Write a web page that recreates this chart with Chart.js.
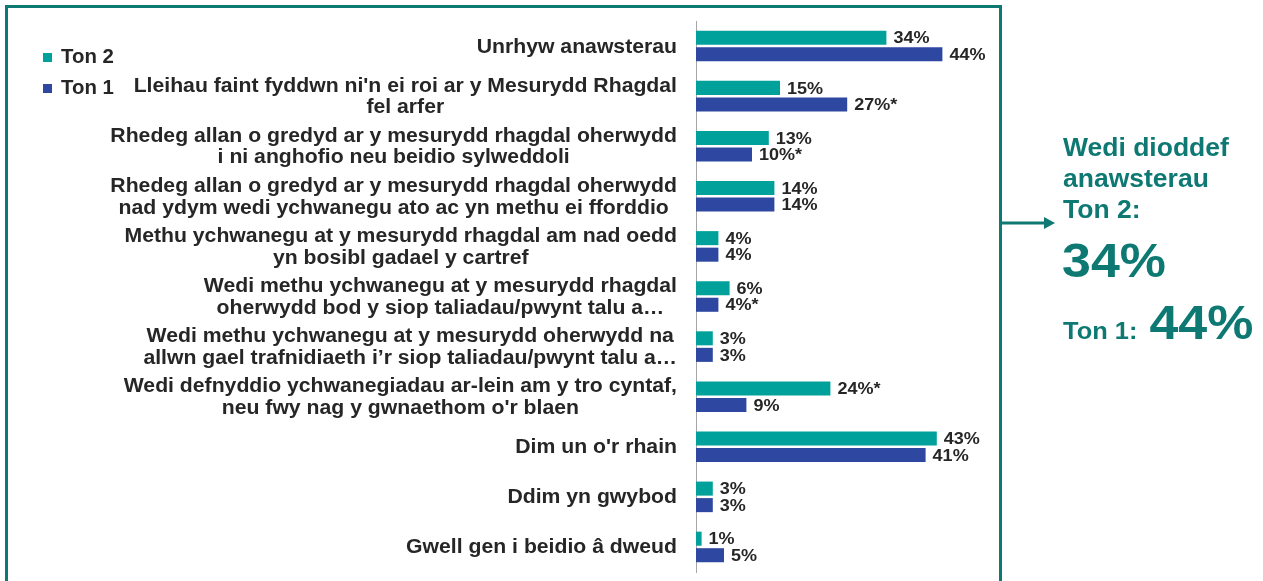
<!DOCTYPE html>
<html>
<head>
<meta charset="utf-8">
<script src="https://cdn.jsdelivr.net/npm/chart.js@4/dist/chart.umd.min.js"></script>
<style>
  html, body { margin: 0; padding: 0; background: #ffffff; overflow: hidden; }
  #wrap { position: absolute; left: 0; top: 0; width: 1263px; height: 581px; }
</style>
</head>
<body>
<div id="wrap"><canvas id="chart"></canvas></div>
<script>
// ---- Data ----
const categories = [
  "Unrhyw anawsterau",
  ["Lleihau faint fyddwn ni'n ei roi ar y Mesurydd Rhagdal", "fel arfer"],
  ["Rhedeg allan o gredyd ar y mesurydd rhagdal oherwydd", "i ni anghofio neu beidio sylweddoli"],
  ["Rhedeg allan o gredyd ar y mesurydd rhagdal oherwydd", "nad ydym wedi ychwanegu ato ac yn methu ei fforddio"],
  ["Methu ychwanegu at y mesurydd rhagdal am nad oedd", "yn bosibl gadael y cartref"],
  ["Wedi methu ychwanegu at y mesurydd rhagdal", "oherwydd bod y siop taliadau/pwynt talu a…"],
  ["Wedi methu ychwanegu at y mesurydd oherwydd na", "allwn gael trafnidiaeth i\u2019r siop taliadau/pwynt talu a…"],
  ["Wedi defnyddio ychwanegiadau ar-lein am y tro cyntaf,", "neu fwy nag y gwnaethom o'r blaen"],
  "Dim un o'r rhain",
  "Ddim yn gwybod",
  "Gwell gen i beidio â dweud"
];
const seriesNames = ["Ton 2", "Ton 1"];
const ton2Values = [34, 15, 13, 14, 4, 6, 3, 24, 43, 3, 1];
const ton1Values = [44, 27, 10, 14, 4, 4, 3, 9, 41, 3, 5];
const ton2Marks = ["", "", "", "", "", "", "", "*", "", "", ""];
const ton1Marks = ["", "*", "*", "", "", "*", "", "", "", "", ""];
const calloutHeading = ["Wedi dioddef", "anawsterau", "Ton 2:"];
const calloutTon2 = "34%";
const calloutTon1Label = "Ton 1:";
const calloutTon1 = "44%";

// ---- Styles ----
const TEAL = "#00A19A";
const BLUE = "#2E47A1";
const DARK_TEAL = "#0D7972";
const TEXT = "#262626";
const FONT = '"Liberation Sans", Arial, Helvetica, sans-serif';
const SX = 1.06; // horizontal text stretch seen in the reference

function stretchedText(ctx, text, x, y, sx) {
  ctx.save();
  ctx.translate(x, y);
  ctx.scale(sx, 1);
  ctx.fillText(text, 0, 0);
  ctx.restore();
}

const frameAndCallout = {
  id: "frameAndCallout",
  afterDraw(chart) {
    const ctx = chart.ctx;
    ctx.save();
    // frame
    ctx.strokeStyle = DARK_TEAL;
    ctx.lineWidth = 3;
    ctx.strokeRect(6.5, 6.5, 994, 700);
    // arrow
    ctx.beginPath();
    ctx.moveTo(1001, 223);
    ctx.lineTo(1047, 223);
    ctx.stroke();
    ctx.fillStyle = DARK_TEAL;
    ctx.beginPath();
    ctx.moveTo(1055, 223);
    ctx.lineTo(1044, 217);
    ctx.lineTo(1044, 229);
    ctx.closePath();
    ctx.fill();
    // callout text
    ctx.textAlign = "left";
    ctx.textBaseline = "alphabetic";
    ctx.font = "bold 25px " + FONT;
    const baselines = [156, 187, 218];
    calloutHeading.forEach((t, i) => stretchedText(ctx, t, 1063, baselines[i], SX));
    ctx.font = "bold 49px " + FONT;
    stretchedText(ctx, calloutTon2, 1062, 277, SX);
    ctx.font = "bold 24px " + FONT;
    stretchedText(ctx, calloutTon1Label, 1063, 339, SX);
    const w = ctx.measureText(calloutTon1Label).width * SX;
    ctx.font = "bold 49px " + FONT;
    stretchedText(ctx, calloutTon1, 1063 + w + 12, 339, SX);

    // legend
    ctx.font = "bold 20px " + FONT;
    ctx.textBaseline = "middle";
    chart.data.datasets.forEach((ds, i) => {
      const y = 57 + i * 31;
      ctx.fillStyle = ds.backgroundColor;
      ctx.fillRect(43, y - 4, 9, 9);
      ctx.fillStyle = TEXT;
      stretchedText(ctx, ds.label, 61, y, 1.02);
    });
    ctx.restore();
  }
};

const categoryLabels = {
  id: "categoryLabels",
  afterDraw(chart) {
    const ctx = chart.ctx;
    const yScale = chart.scales.y;
    const right = yScale.right - 19;
    const lh = 21.5;
    ctx.save();
    ctx.font = "bold 20px " + FONT;
    ctx.fillStyle = TEXT;
    ctx.textBaseline = "middle";
    ctx.textAlign = "center";
    chart.data.labels.forEach((lab, i) => {
      const lines = Array.isArray(lab) ? lab : [lab];
      const widths = lines.map(l => ctx.measureText(l).width * SX);
      const blockW = Math.max(...widths);
      const cx = right - blockW / 2;
      const cy = yScale.getPixelForValue(i) + 1;
      lines.forEach((l, j) => {
        stretchedText(ctx, l, cx, cy + (j - (lines.length - 1) / 2) * lh, SX);
      });
    });
    ctx.restore();
  }
};

const valueLabels = {
  id: "valueLabels",
  afterDatasetsDraw(chart) {
    const ctx = chart.ctx;
    const marks = [ton2Marks, ton1Marks];
    ctx.save();
    ctx.font = "bold 17px " + FONT;
    ctx.fillStyle = TEXT;
    ctx.textBaseline = "middle";
    ctx.textAlign = "left";
    chart.data.datasets.forEach((ds, di) => {
      const meta = chart.getDatasetMeta(di);
      meta.data.forEach((bar, i) => {
        stretchedText(ctx, ds.data[i] + "%" + marks[di][i], bar.x + 7, bar.y + 1, SX);
      });
    });
    ctx.restore();
  }
};

new Chart(document.getElementById("chart"), {
  type: "bar",
  data: {
    labels: categories,
    datasets: [
      { label: seriesNames[0], data: ton2Values, backgroundColor: TEAL },
      { label: seriesNames[1], data: ton1Values, backgroundColor: BLUE }
    ]
  },
  options: {
    indexAxis: "y",
    responsive: true,
    maintainAspectRatio: false,
    animation: false,
    devicePixelRatio: 1,
    categoryPercentage: 0.66,
    barPercentage: 0.85,
    layout: { padding: { top: 21, bottom: 9, left: 0, right: 287 } },
    scales: {
      x: { display: false, min: 0, max: 50 },
      y: {
        grid: { display: false },
        border: { display: true, color: "#a6a6a6", width: 1 },
        ticks: { display: false },
        afterFit(scale) { scale.width = 696; }
      }
    },
    plugins: {
      legend: { display: false },
      tooltip: { enabled: false }
    }
  },
  plugins: [valueLabels, categoryLabels, frameAndCallout]
});
</script>
</body>
</html>
